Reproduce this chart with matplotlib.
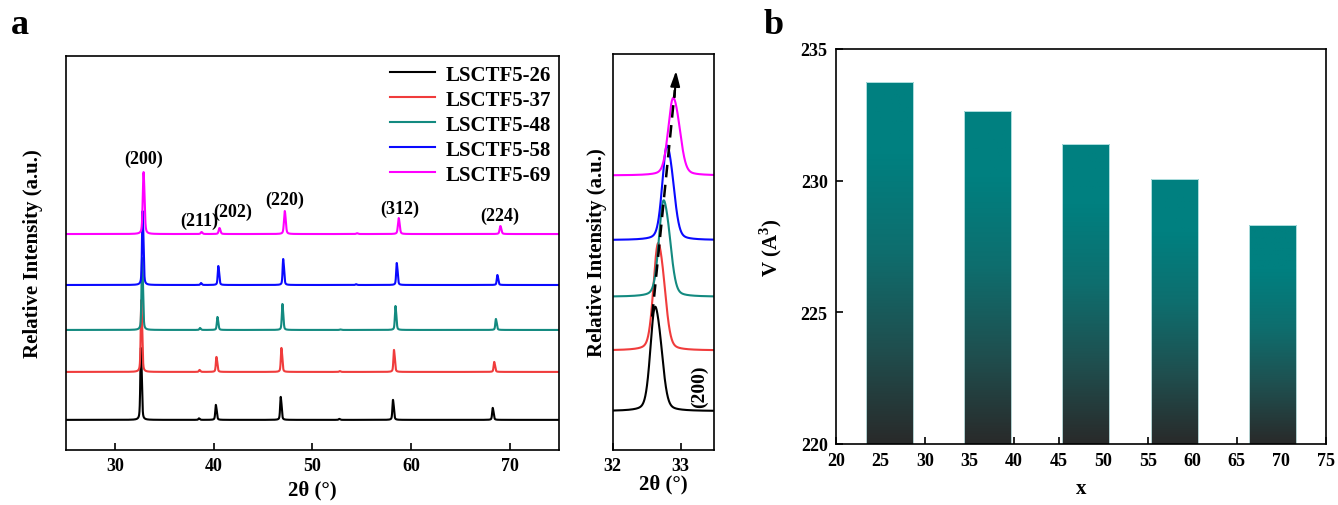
import numpy as np
import matplotlib
matplotlib.use("Agg")
import matplotlib.pyplot as plt
from matplotlib.colors import LinearSegmentedColormap

plt.rcParams['font.family'] = ['Liberation Serif', 'DejaVu Serif']
plt.rcParams['font.weight'] = 'bold'
plt.rcParams['mathtext.fontset'] = 'custom'
plt.rcParams['mathtext.rm'] = 'Liberation Serif:bold'
plt.rcParams['mathtext.bf'] = 'Liberation Serif:bold'

# ---- dados ----
amostras = ['LSCTF5-26', 'LSCTF5-37', 'LSCTF5-48', 'LSCTF5-58', 'LSCTF5-69']
cores = ['#000000', '#f03c3c', '#138a80', '#0a0aff', '#ff00ff']

# painel a: linha de base e picos (posicao 2theta, altura) de cada amostra
base_a = [30, 78, 120, 165, 216]
picos_pos = [
    [32.62, 38.50, 40.21, 46.78, 52.70, 58.15, 68.25],
    [32.66, 38.55, 40.27, 46.85, 52.75, 58.25, 68.40],
    [32.74, 38.60, 40.37, 46.95, 52.80, 58.40, 68.57],
    [32.79, 38.70, 40.46, 47.03, 54.40, 58.53, 68.72],
    [32.88, 38.75, 40.57, 47.18, 54.50, 58.72, 69.02],
]
picos_alt = [
    [72, 1.5, 15, 23, 1.0, 20, 12],
    [72, 2.0, 15, 24, 0.8, 22, 10],
    [72, 2.0, 13, 26, 0.5, 24, 11],
    [74, 2.0, 19, 26, 0.8, 22, 10],
    [62, 2.0, 6, 23, 0.8, 16, 8],
]
larguras = [0.13, 0.13, 0.13, 0.13, 0.17]

# detalhe do pico (200)
base_b = [39, 100, 154, 211, 276]
pico200_pos = [32.61, 32.655, 32.735, 32.785, 32.875]
pico200_alt = [105, 108, 97, 95, 78]
larguras200 = [0.15, 0.15, 0.15, 0.15, 0.16]
rotulos_hkl = ['(200)', '(211)', '(202)', '(220)', '(312)', '(224)']
hkl_x = [32.9, 38.5, 41.9, 47.2, 58.8, 69.0]
hkl_y = [292, 230, 239, 251, 242, 235]

# painel b: volume da celula
composicao = [26, 37, 48, 58, 69]
volume = [233.75, 232.65, 231.40, 230.05, 228.30]


def forma(x, p, w, fl=0.5):
    # pseudo-voigt com o ombro Ka2
    d = 0.09
    g = lambda u: fl / (1 + (u / (w / 2)) ** 2) + (1 - fl) * np.exp(-np.log(2) * (u / (w / 2)) ** 2)
    return g(x - p) + 0.5 * g(x - p - d)


def perfil(x, pos, alt, w, fl=0.5):
    y = np.zeros_like(x)
    u = np.linspace(-0.3, 0.4, 2001)
    norma = forma(u, 0, w, fl).max()
    for p, h in zip(pos, alt):
        y += h * forma(x, p, w, fl) / norma
    return y


fig = plt.figure(figsize=(13.38, 5.06), dpi=100)

# ---- painel a ----
ax1 = fig.add_axes([0.049, 0.109, 0.369, 0.778])
x = np.linspace(25, 75, 20001)
for i in range(5):
    y = base_a[i] + perfil(x, picos_pos[i], picos_alt[i], larguras[i])
    ax1.plot(x, y, color=cores[i], lw=1.5, label=amostras[i])
for t, xx, yy in zip(rotulos_hkl, hkl_x, hkl_y):
    ax1.text(xx, yy, t, ha='center', va='center', fontsize=13, fontweight='bold')
ax1.set_xlim(25, 75)
ax1.set_ylim(0, 394)
ax1.set_xticks([30, 40, 50, 60, 70])
ax1.set_yticks([])
ax1.tick_params(axis='x', direction='in', length=5, width=1.2, labelsize=13, pad=5)
ax1.set_xlabel('2θ (°)', fontsize=15, fontweight='bold', labelpad=4)
ax1.set_ylabel('Relative Intensity (a.u.)', fontsize=15, fontweight='bold', labelpad=16)
leg = ax1.legend(loc='upper right', frameon=False, fontsize=15, handlelength=2.2,
                 labelspacing=0.24, handletextpad=0.5, borderaxespad=0.1,
                 bbox_to_anchor=(1.005, 1.005))
for s in ax1.spines.values():
    s.set_linewidth(1.2)
fig.text(0.008, 0.95, 'a', fontsize=26, fontweight='bold', va='center')

# ---- detalhe (200) ----
ax2 = fig.add_axes([0.458, 0.109, 0.076, 0.782])
x2 = np.linspace(32, 33.5, 3001)
for i in range(5):
    y = base_b[i] + perfil(x2, [pico200_pos[i]], [pico200_alt[i]], larguras200[i], fl=0.3)
    ax2.plot(x2, y, color=cores[i], lw=1.5)
ax2.plot([32.58, 32.915], [134, 362], ls='--', color='k', lw=1.8, dashes=(5, 3))
ax2.annotate('', xy=(32.935, 384), xytext=(32.91, 352),
             arrowprops=dict(arrowstyle='-|>,head_width=0.28,head_length=0.9',
                             color='k', lw=1.5))
ax2.text(33.28, 64, '(200)', rotation=90, ha='center', va='center',
         fontsize=14, fontweight='bold')
ax2.set_xlim(32, 33.5)
ax2.set_ylim(0, 398)
ax2.set_xticks([32, 33])
ax2.set_yticks([])
ax2.tick_params(axis='x', direction='in', length=5, width=1.2, labelsize=13, pad=5)
ax2.set_xlabel('2θ (°)', fontsize=15, fontweight='bold', labelpad=0)
ax2.set_ylabel('Relative Intensity (a.u.)', fontsize=15, fontweight='bold', labelpad=4)
for s in ax2.spines.values():
    s.set_linewidth(1.2)

# ---- painel b ----
ax3 = fig.add_axes([0.6248, 0.1206, 0.3662, 0.7806])
cmap = LinearSegmentedColormap.from_list('verde', ['#292a2a', '#1f4f4f', '#0e6e6e', '#008080'])
barras = ax3.bar(composicao, [v - 220 for v in volume], bottom=220, width=5.3,
                 color='none', edgecolor='#cdeeee', linewidth=0.6, zorder=3)
for b, v in zip(barras, volume):
    t = np.linspace(0, 1, 256)
    grad = np.clip(t / 0.8, 0, 1)[::-1].reshape(-1, 1)
    im = ax3.imshow(grad, cmap=cmap, vmin=0, vmax=1, aspect='auto',
                    extent=[b.get_x(), b.get_x() + b.get_width(), 220, v], zorder=2)
    im.set_clip_path(b)
ax3.set_xlim(20, 75)
ax3.set_ylim(220, 235)
ax3.set_xticks(range(20, 80, 5))
ax3.set_yticks([220, 225, 230, 235])
ax3.tick_params(direction='in', length=5, width=1.2, labelsize=13, pad=6)
ax3.set_xlabel('x', fontsize=15, fontweight='bold', labelpad=6)
ax3.set_ylabel(r'V (A$^{\bf 3}$)', fontsize=15, fontweight='bold', labelpad=12)
for s in ax3.spines.values():
    s.set_linewidth(1.2)
    s.set_zorder(5)
fig.text(0.571, 0.95, 'b', fontsize=26, fontweight='bold', va='center')

fig.savefig('out.png', dpi=100)
